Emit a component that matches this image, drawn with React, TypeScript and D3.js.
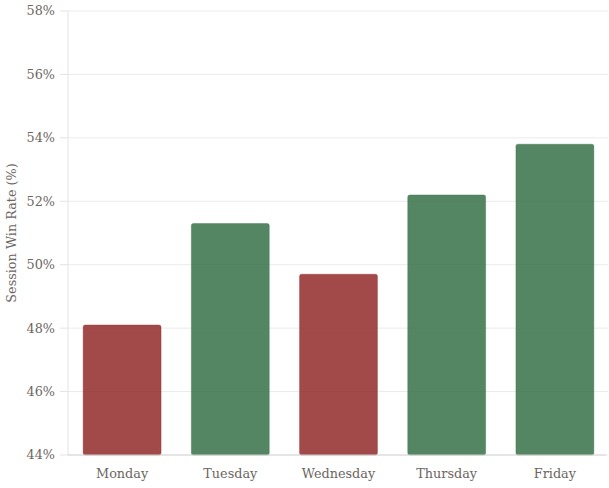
import React from "react";
import * as d3 from "d3";

const days = ["Monday", "Tuesday", "Wednesday", "Thursday", "Friday"];
const winRates = [48.1, 51.3, 49.7, 52.2, 53.8];
const yTicks = [44, 46, 48, 50, 52, 54, 56, 58];

const W = 609;
const H = 488;
const M = { top: 11, right: 0, bottom: 33, left: 68 };
const FONT = "'DejaVu Serif', serif";

export default function App() {
  const x = d3
    .scaleBand<string>()
    .domain(days)
    .range([M.left, W - M.right])
    .paddingInner(0.28)
    .paddingOuter(0.14);
  const y = d3.scaleLinear().domain([44, 58]).range([H - M.bottom, M.top]);
  const bottom = H - M.bottom;

  return (
    <svg
      width={W}
      height={H}
      style={{ position: "absolute", left: 0, top: 0, background: "#fff" }}
      fontFamily={FONT}
    >
      {yTicks.map((t) => (
        <g key={t}>
          <line x1={M.left} x2={W - 1} y1={y(t)} y2={y(t)} stroke="#ebebeb" strokeWidth={1} />
          <line x1={M.left - 8} x2={M.left} y1={y(t)} y2={y(t)} stroke="#e3e3e3" strokeWidth={1} />
          <text
            x={M.left - 13}
            y={y(t)}
            dy="0.35em"
            textAnchor="end"
            fontSize={12.8}
            fill="#6b6661"
          >
            {t}%
          </text>
        </g>
      ))}
      <line x1={M.left} x2={M.left} y1={M.top} y2={bottom} stroke="#e3e3e3" />
      {days.map((d, i) => {
        const v = winRates[i];
        const up = v >= 50;
        return (
          <rect
            key={d}
            x={x(d)}
            y={y(v)}
            width={x.bandwidth()}
            height={bottom - y(v)}
            rx={2}
            fill={up ? "#2f6b41" : "#8e2222"}
            fillOpacity={0.82}
            stroke={up ? "#2f6b41" : "#8e2222"}
            strokeOpacity={0.35}
            strokeWidth={1}
          />
        );
      })}
      <line x1={M.left} x2={W - 3} y1={bottom} y2={bottom} stroke="#d5d5d5" />
      {days.map((d) => (
        <text
          key={d}
          x={(x(d) as number) + x.bandwidth() / 2}
          y={bottom + 23}
          textAnchor="middle"
          fontSize={12.8}
          fill="#6b6661"
        >
          {d}
        </text>
      ))}
      <text
        transform={`translate(16,${(M.top + bottom) / 2}) rotate(-90)`}
        textAnchor="middle"
        fontSize={12.8}
        fill="#6b6661"
      >
        Session Win Rate (%)
      </text>
    </svg>
  );
}
